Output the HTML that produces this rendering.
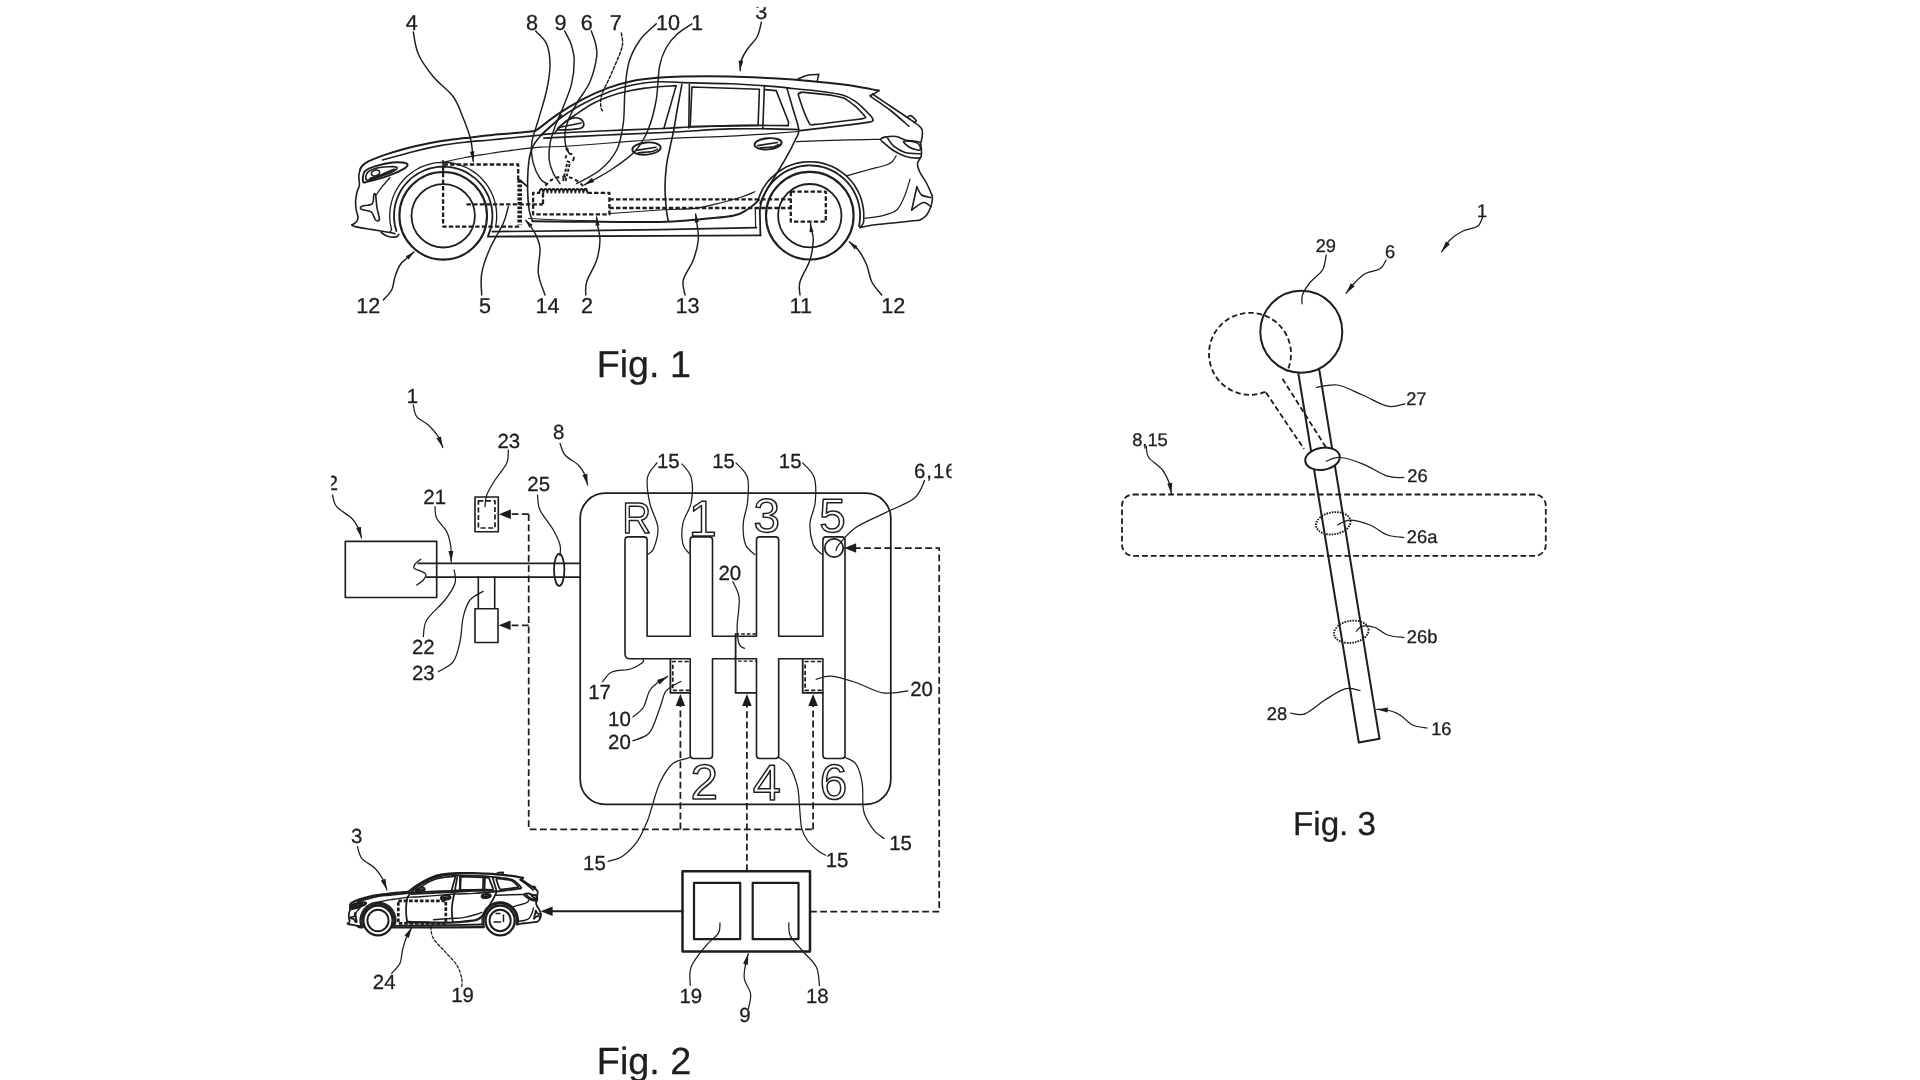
<!DOCTYPE html>
<html lang="en"><head><meta charset="utf-8"><title>Patent drawing - Fig. 1, Fig. 2, Fig. 3</title>
<style>
html,body{margin:0;padding:0;background:#fff;}
body{width:1920px;height:1080px;overflow:hidden;}
svg{display:block;}
svg text{text-rendering:geometricPrecision;font-family:"Liberation Sans",sans-serif;fill:#1d1d1d;stroke:#1d1d1d;stroke-width:0.3px;}
</style></head><body>
<svg width="1920" height="1080" viewBox="0 0 1920 1080" fill="none" stroke="#1d1d1d" stroke-width="1.5" stroke-linecap="round" stroke-linejoin="round">
<rect x="0" y="0" width="1920" height="1080" fill="#ffffff" stroke="none"/>
<g>
<g id="fig1">
<g id="car" stroke-width="1.6"><path d="M360 170C360.3 169.4 360.4 167.7 361.9 166.2C363.4 164.7 364.1 163.4 368.8 161.2C373.5 159 382.3 155.6 390 153.1C397.7 150.6 406.7 148.2 415 146.2C423.3 144.2 431.7 142.5 440 141.2C448.3 139.8 456.7 139.1 465 138.1C473.3 137.1 481.7 136 490 135.2C498.3 134.4 507.9 133.8 515 133.1C522.1 132.4 528.8 131.9 532.5 131.3C536.2 130.7 533.3 132.2 537.5 129.4C541.7 126.6 550 119.4 557.5 114.4C565 109.4 574.2 103.8 582.5 99.4C590.8 95 599.2 91.2 607.5 88.1C615.8 85 624.2 82.7 632.5 81C640.8 79.3 649.2 78.5 657.5 77.8C665.8 77 670.4 76.7 682.5 76.5C694.6 76.3 715.8 76.2 730 76.5C744.2 76.8 756 77.5 767.5 78.1C779 78.7 788.4 79.2 798.8 80C809.2 80.8 820.6 82.1 830 83.1C839.4 84.1 846.9 85 855 86.2C863.1 87.5 874.8 89.9 878.8 90.6" stroke-width="2"/><path d="M878.8 90.6L875 93.1L870 95.8"/><path d="M872.5 94C875.8 96.2 886 103.1 892.5 107.5C899 111.9 906.4 116.8 911.2 120.2C916 123.6 919.4 125.6 921.2 128.1C923.1 130.6 922.3 132.6 922.3 135C922.3 137.4 921.2 141.2 921 142.5"/><path d="M870.6 96.4C873.8 98.7 883.6 105 890 110C896.4 115 905.7 123.5 908.8 126.2"/><path d="M907.5 117.5C908 117.2 909.1 115.1 910.6 115.6C912.1 116.1 915.7 119.4 916.2 120.6C916.7 121.8 914.2 122.2 913.8 122.5"/><path d="M798.1 78.9C799.7 78.3 804 76 807.5 75.2C811 74.5 816.9 74.5 818.8 74.4L817.3 80.6"/><path d="M541.2 135C544.5 132.1 553.9 122.9 561.2 117.5C568.5 112.1 576.9 107.1 585 102.8C593.1 98.5 602.1 94.5 610 91.5C617.9 88.5 624.6 86.6 632.5 85C640.4 83.4 649.2 82.2 657.5 81.8C665.8 81.4 670.4 82.3 682.5 82.6C694.6 82.9 716.9 83.3 730 83.8C743.1 84.3 751.4 84.9 761.2 85.6C771 86.3 784.2 87.5 788.8 87.9"/><path d="M555 132.5C556.3 131.1 559.7 126.9 563 124C566.3 121.1 569.7 118.6 575 115C580.3 111.4 587.5 106.2 595 102.5C602.5 98.8 611.7 95.5 620 93.1C628.3 90.7 635.6 89.3 645 88.1C654.4 86.8 671 86 676.2 85.6L663.8 128.6"/><path d="M382.5 160C387.9 158.5 405.4 153.6 415 151.2C424.6 148.8 431.7 147.1 440 145.6C448.3 144.1 456.7 143.1 465 142.2C473.3 141.3 481.7 140.8 490 140C498.3 139.2 507.5 138.2 515 137.5C522.5 136.8 528.8 136.2 535 135.6C541.2 134.9 541.7 134.4 552.5 133.6C563.3 132.8 581.7 131.8 600 131C618.3 130.2 647.5 129.2 662.5 128.5C677.5 127.8 678.8 127.5 690 127C701.2 126.5 718.3 125.9 730 125.6C741.7 125.3 750.3 125.4 760 125.4C769.7 125.4 783.3 125.6 788 125.6"/><path d="M543.8 138.1C554.4 137.6 586.5 136 607.5 135C628.5 134 649.6 133.2 670 132.2C690.4 131.2 713.3 129.4 730 128.9C746.7 128.4 758.5 128.8 770 128.9C781.5 129 794 129.5 798.8 129.6"/><path d="M442.5 162.5C446.2 161.7 457.1 159 465 157.5C472.9 156 481.7 154.8 490 153.5C498.3 152.2 506.7 151.1 515 150C523.3 148.9 530.8 147.9 540 147.2C549.2 146.5 554.6 147 570 146C585.4 145 615 142.5 632.5 141.2C650 139.9 658.8 138.9 675 138.1C691.2 137.3 714.6 136.9 730 136.2C745.4 135.5 756 134.6 767.5 133.8C779 133 793.6 131.9 798.8 131.5" stroke-width="1.2"/><path d="M557.5 128.5C559 127.3 563.7 122.9 566.2 121.2C568.7 119.5 570.2 118.5 572.5 118.1C574.8 117.7 578.1 117.8 580 118.8C581.9 119.8 583.6 122.2 583.8 123.8C584 125.3 583.5 127.1 581.2 128.1C578.9 129.1 574 129.3 570 129.6C566 129.9 559.6 129.9 557.5 130"/><path d="M558.8 127.5L581 123"/><path d="M681.9 84.4C681.2 88.3 678.9 100.4 677.5 108C676.1 115.6 675 123.4 673.8 130C672.5 136.6 671.2 141.5 670 147.5C668.8 153.5 667.2 159.4 666.4 166.2C665.6 172.9 665 180.7 665 188C665 195.3 665.9 204.5 666.4 210C666.9 215.5 668 219.2 668.3 221"/><path d="M689.4 84.6L688.8 128"/><path d="M691.9 87L759.4 89.2L758.1 125.4L690.2 126.6Z"/><path d="M764.4 86L762.8 128.6"/><path d="M764.6 89.6L776.2 90.6L788.6 122.3L788.1 125.6"/><path d="M786.9 88.1C787.9 91.6 791 102 793 109C795 116 798.5 124.8 798.8 130C799.1 135.2 797 136.1 795 140.5C793 144.9 789.8 151.2 786.7 156.7C783.7 162.2 780 167.8 776.7 173.3C773.4 178.9 769.5 185 766.7 190C763.9 195 761.1 201.1 760 203.3"/><path d="M796.2 141.6C803.9 141.3 828.5 140.5 842.5 140.1C856.5 139.7 873.8 139.5 880 139.4" stroke-width="1.2"/><path d="M788.8 88.1C793.6 88.6 808.5 89.8 817.5 91C826.5 92.2 836.2 93.3 842.5 95C848.8 96.7 850.8 98.3 855 101.2C859.2 104.1 864.6 109.6 867.5 112.5C870.4 115.4 872.1 116.9 872.5 118.5C872.9 120.1 875 120.7 870 121.9C865 123.1 854.2 124.1 842.5 125.6C830.8 127 807.1 129.8 800 130.6"/><path d="M798.8 96.6C797.3 91.8 799.2 94 800 93.3C800.8 92.6 797.8 91.9 803.8 92.4C809.8 92.9 828.7 94.7 836.2 96.2C843.7 97.7 844.2 98.1 848.8 101.2C853.4 104.3 861.4 112.1 863.8 115C866.2 117.9 866.6 117.5 863.1 118.5C859.6 119.5 850.5 120.2 842.5 121.2C834.5 122.2 820.6 124.2 815 124.4C809.4 124.6 811.5 126.9 808.8 122.3C806.1 117.7 800.3 101.4 798.8 96.6Z"/><ellipse cx="646.5" cy="148.6" rx="14.2" ry="6.1" transform="rotate(-5 646.5 148.6)" stroke-width="1.9"/><path d="M636 150.4L656 147.3"/><path d="M638.5 152.7C640 152.6 645.2 152.2 647.5 152C649.8 151.8 650.8 152.1 652.5 151.6C654.2 151.1 656.7 149.6 657.5 149.2"/><ellipse cx="768.1" cy="143.8" rx="13.6" ry="5.6" transform="rotate(-5 768.1 143.8)" stroke-width="1.9"/><path d="M757.6 145.6L777.6 142.5"/><path d="M760.1 147.9C761.6 147.8 766.8 147.4 769.1 147.2C771.4 147 772.4 147.3 774.1 146.8C775.8 146.3 778.3 144.8 779.1 144.4"/><path d="M561.7 115C560.6 116.2 558.2 119.4 555 122.5C551.8 125.6 546.2 129.9 542.5 133.8C538.8 137.8 535.3 141.5 533 146.2C530.7 150.9 529.7 154.7 528.8 162C527.9 169.3 527.5 182 527.6 190C527.7 198 528.4 204.8 529.2 210C530 215.2 532 219.4 532.5 221.3"/><path d="M532.5 221.3C543.8 221.4 578.8 221.7 600 221.8C621.2 221.9 644.2 222.3 660 222C675.8 221.7 682.8 220.7 695 219.7C707.2 218.7 724.4 217.4 733 215.8C741.6 214.2 743 212.1 746.7 210C750.5 207.9 753.5 204.9 755.5 203.2C757.5 201.5 758.3 200.4 758.9 199.9" stroke-width="2"/><path d="M528.5 218.4C533.8 218.7 548.4 219.6 560 220C571.6 220.4 591.7 220.7 598 220.8" stroke-width="1"/><path d="M610 213.5C618.3 212.9 645.8 210.9 660 210C674.2 209.1 685.8 209.3 695 208.3C704.2 207.3 707.5 206 715 204.2C722.5 202.4 733.3 199.6 740 197.5C746.7 195.4 752.5 192.7 755 191.7" stroke-width="1.2"/><path d="M491.3 226.8L487.9 236.6L660 235.9L760.4 235.4" stroke-width="1.9"/><path d="M492.2 231.6C520.2 231.3 616 230.3 660 229.6C704 228.9 740.4 227.9 756.5 227.6"/><path d="M755.3 208.3L755.6 227.6" stroke-width="1.2"/><circle cx="443.2" cy="215.8" r="43.8" stroke-width="2.1"/><circle cx="443.2" cy="215.8" r="31.7" stroke-width="1.8"/><circle cx="809.8" cy="215.7" r="43.8" stroke-width="2.1"/><circle cx="809.8" cy="215.7" r="31.7" stroke-width="1.8"/><path d="M396.4 231C396.2 230 395.3 227.1 394.9 225.2C394.5 223.2 394.3 221.2 394.1 219.2C394 217.2 394 215.1 394.1 213.1C394.2 211.1 394.4 209.1 394.8 207.1C395.1 205.2 395.6 203.2 396.2 201.3C396.8 199.4 397.5 197.5 398.3 195.6C399.1 193.8 400.1 192 401.1 190.3C402.2 188.6 403.3 186.9 404.6 185.3C405.8 183.8 407.2 182.2 408.6 180.8C410 179.4 411.5 178.1 413.1 176.9C414.7 175.6 416.4 174.5 418.1 173.5C419.9 172.4 421.7 171.5 423.5 170.7C425.3 169.9 427.2 169.2 429.2 168.6C431.1 168.1 433.1 167.6 435.1 167.3C437 166.9 439 166.7 441.1 166.6C443.1 166.6 445.1 166.6 447.1 166.8C449.1 166.9 451.1 167.2 453.1 167.6C455 168 457 168.5 458.9 169.2C460.8 169.8 462.7 170.6 464.5 171.4C466.3 172.3 468.1 173.3 469.8 174.4C471.4 175.5 473.1 176.7 474.6 177.9C476.2 179.2 477.6 180.6 479 182.1C480.4 183.5 481.7 185.1 482.9 186.7C484.1 188.3 485.2 190 486.1 191.8C487.1 193.6 488 195.4 488.8 197.2C489.5 199.1 490.2 201 490.7 203C491.2 204.9 491.6 206.9 491.9 208.9C492.2 210.9 492.4 212.9 492.4 214.9C492.4 216.9 492.3 218.9 492.1 220.9C491.9 222.9 491.3 225.9 491.1 226.9" stroke-width="1.8"/><path d="M390 232C390.3 231.6 391.5 231.1 391.5 229.6C391.6 228.2 390.5 225.5 390.2 223.4C389.9 221.3 389.8 219.1 389.7 217C389.7 214.9 389.7 212.7 390 210.6C390.2 208.5 390.5 206.3 391 204.3C391.4 202.2 392 200.1 392.7 198.1C393.4 196.1 394.3 194.1 395.2 192.2C396.1 190.3 397.2 188.4 398.4 186.6C399.5 184.8 400.8 183.1 402.2 181.5C403.5 179.8 405 178.3 406.6 176.8C408.1 175.3 409.8 174 411.5 172.7C413.2 171.4 415 170.3 416.9 169.2C418.7 168.2 420.7 167.2 422.6 166.4C424.6 165.6 426.6 164.9 428.7 164.3C430.7 163.7 432.8 163.3 435 162.9C437.1 162.6 439.2 162.4 441.3 162.3C443.5 162.3 445.6 162.3 447.7 162.5C449.9 162.7 452 163 454.1 163.4C456.2 163.9 458.2 164.4 460.3 165.1C462.3 165.8 464.3 166.6 466.2 167.5C468.1 168.4 470 169.5 471.8 170.6C473.6 171.7 475.4 173 477 174.3C478.7 175.7 480.2 177.1 481.7 178.7C483.2 180.2 484.6 181.9 485.9 183.6C487.2 185.3 488.4 187 489.4 188.9C490.5 190.7 491.5 192.7 492.3 194.6C493.2 196.6 493.9 198.6 494.5 200.6C495.1 202.7 495.6 204.8 496 206.9C496.3 209 496.5 211.1 496.6 213.2C496.7 215.4 496.7 217.5 496.6 219.7C496.4 221.8 495.9 224.9 495.7 226" stroke-width="1.3"/><path d="M759.8 210.4C759.9 209.5 760.3 206.8 760.6 205.1C761 203.3 761.5 201.5 762.1 199.8C762.6 198.1 763.3 196.4 764.1 194.8C764.8 193.1 765.7 191.5 766.6 189.9C767.5 188.4 768.5 186.9 769.6 185.4C770.7 184 771.9 182.6 773.1 181.3C774.4 179.9 775.7 178.7 777.1 177.5C778.4 176.3 779.9 175.2 781.4 174.2C782.9 173.2 784.4 172.2 786 171.4C787.6 170.5 789.3 169.7 791 169.1C792.6 168.4 794.4 167.8 796.1 167.3C797.8 166.8 799.6 166.4 801.4 166.1C803.2 165.8 805 165.6 806.8 165.5C808.6 165.4 810.4 165.4 812.3 165.5C814.1 165.5 815.9 165.7 817.7 166C819.5 166.3 821.2 166.7 823 167.2C824.7 167.6 826.5 168.2 828.2 168.9C829.8 169.5 831.5 170.3 833.1 171.1C834.7 172 836.3 172.9 837.8 173.9C839.3 174.9 840.7 176 842.1 177.2C843.5 178.3 844.9 179.6 846.1 180.9C847.4 182.2 848.5 183.6 849.7 185C850.8 186.4 851.8 187.9 852.7 189.5C853.7 191 854.5 192.6 855.3 194.3C856.1 195.9 856.8 197.6 857.4 199.3C857.9 201 858.4 202.8 858.9 204.6C859.3 206.3 859.6 208.1 859.8 209.9C860 211.7 860.1 213.5 860.1 215.3C860.1 217.2 860 219 859.8 220.8C859.7 222.6 859.1 225.3 859 226.2" stroke-width="1.8"/><path d="M760.4 235.4L760.1 221.5L759.8 210.4" stroke-width="1.8"/><path d="M758.2 199.9C758.5 199.1 759.3 196.5 760 194.9C760.7 193.2 761.4 191.6 762.3 190C763.1 188.4 764.1 186.9 765.1 185.4C766.1 183.9 767.2 182.5 768.3 181.1C769.5 179.8 770.7 178.4 772 177.2C773.2 175.9 774.6 174.7 776 173.6C777.4 172.5 778.8 171.4 780.3 170.5C781.8 169.5 783.4 168.6 784.9 167.8C786.5 166.9 788.2 166.2 789.8 165.5C791.5 164.9 793.2 164.3 794.9 163.8C796.6 163.3 798.4 162.9 800.1 162.6C801.9 162.3 803.7 162 805.5 161.9C807.3 161.7 809 161.7 810.8 161.7C812.6 161.7 814.4 161.9 816.2 162.1C818 162.3 819.7 162.6 821.5 163C823.2 163.4 825 163.8 826.7 164.4C828.4 165 830 165.6 831.7 166.3C833.3 167.1 834.9 167.9 836.5 168.7C838 169.6 839.5 170.6 841 171.6C842.5 172.7 843.9 173.8 845.2 174.9C846.6 176.1 847.9 177.4 849.1 178.7C850.3 180 851.5 181.3 852.6 182.8C853.7 184.2 854.7 185.6 855.6 187.2C856.6 188.7 857.5 190.3 858.3 191.9C859 193.5 859.8 195.1 860.4 196.8C861 198.5 861.6 200.2 862 201.9C862.5 203.6 862.8 205.4 863.1 207.2C863.4 208.9 863.6 210.7 863.7 212.5C863.8 214.3 863.8 216.1 863.8 217.9C863.7 219.7 863.9 221.6 863.3 223.2C862.6 224.8 860.5 226.8 860 227.5"/><path d="M360 170C359.8 171 358.9 173.7 358.8 176.2C358.7 178.7 359.7 182.3 359.4 185C359.1 187.7 357.5 189.8 356.9 192.5C356.3 195.2 355.7 198.3 355.6 201.2C355.5 204.1 355.8 207.3 356.2 210C356.6 212.7 358.1 215.5 358.1 217.5C358.1 219.5 357.2 220.7 356.2 221.9C355.2 223.2 352.6 224.5 351.9 225"/><path d="M351.9 225C352.6 225.3 353 226.2 356.2 226.9C359.4 227.6 365.6 228.5 371.2 229.4C376.8 230.3 386 231.8 390 232.5C394 233.2 394.2 233.6 395 233.8"/><path d="M381.2 232.5C382.2 233.1 385 235.5 387.5 236.2C390 236.9 394.3 237.2 396.2 236.9C398.1 236.6 398.4 234.8 398.8 234.4"/><path d="M390 177.5C388.8 178.9 384.8 183.3 382.5 186.2C380.2 189.1 377.2 193.5 376.2 195" stroke-width="1.3"/><path d="M373.8 194.8C373.2 196.3 374.2 201.9 372.2 203.8C370.2 205.7 363.7 205.3 361.9 206.2C360.1 207.1 359.9 208.4 361.5 209.4C363.1 210.4 368.8 210.1 371.2 211.9C373.6 213.7 374.2 218.8 375.6 220C377 221.2 379.2 221.5 379.4 219.4C379.6 217.3 377.5 211.6 376.9 207.5C376.3 203.4 376.1 197.1 375.6 195C375.1 192.9 374.4 193.3 373.8 194.8Z"/><path d="M363.1 181.9C362.5 180.2 362.6 173.9 365 171.2C367.4 168.5 372.9 167 377.5 165.6C382.1 164.2 388.3 163 392.5 162.5C396.7 162 400 162.2 402.5 162.5C405 162.8 407.1 163.5 407.5 164.4C407.9 165.3 407.1 166.7 405 168.1C402.9 169.5 399 171.4 395 173.1C391 174.8 385.6 176.8 381.2 178.1C376.8 179.4 371.8 180.6 368.8 181.2C365.8 181.8 363.7 183.6 363.1 181.9Z" stroke-width="1.9"/><path d="M366.9 180C364.7 179.3 365.9 174 368.1 171.9C370.3 169.8 375.3 168.3 380 167.5C384.7 166.7 393.9 166.3 396.2 166.9C398.5 167.5 396.3 169.6 393.8 171.2C391.3 172.8 385.7 174.7 381.2 176.2C376.7 177.7 369.1 180.7 366.9 180Z"/><ellipse cx="375.5" cy="173" rx="4.2" ry="2.8" transform="rotate(-15 375.5 173)"/><path d="M370 178.6C372 177.9 378 176.1 382 174.6C386 173.1 392 170.3 394 169.4" stroke-width="2"/><path d="M880.6 139.4C880.8 138.2 883.6 137.4 886.2 136.9C888.8 136.4 893.1 136 896.2 136.5C899.3 137 901.9 139.2 905 140C908.1 140.8 912.5 140.8 915 141.2C917.5 141.6 919 141.4 920 142.5C921 143.6 921 145.2 921.2 147.5C921.4 149.8 921.8 154.4 921.2 156.2C920.6 158 920.2 158.1 917.5 158.1C914.8 158.1 909.2 157.5 905 156.2C900.8 154.8 895.8 152.1 892.5 150C889.2 147.9 887 145.6 885 143.8C883 142 880.4 140.6 880.6 139.4Z"/><path d="M887.5 138.1C888.5 139.4 890.9 143.8 893.8 146.2C896.7 148.6 900.4 151.2 905 152.5C909.6 153.8 918.5 153.6 921.2 153.8"/><path d="M903.8 141.2C905 140.5 914.8 141.6 917.5 143.1C920.2 144.6 921.2 149.3 920 150C918.8 150.7 912.7 149 910 147.5C907.3 146 902.5 141.9 903.8 141.2Z"/><path d="M896.2 155.6C895.6 156.5 894.2 159.6 892.5 161.2C890.8 162.8 890.4 163.5 886.2 165C882 166.5 874 168.2 867.5 170C861 171.8 850.8 174.7 847.5 175.6" stroke-width="1.2"/><path d="M920.6 157.5C920.1 158.6 917.6 161.3 917.5 163.8C917.4 166.3 918.5 169.4 920 172.5C921.5 175.6 924.4 179.1 926.2 182.5C928 185.9 930 190.4 931 193C932 195.6 932.5 195.7 932.5 198C932.5 200.3 931.8 203.9 930.8 206.7C929.8 209.5 928.5 212.8 926.7 215C924.9 217.2 922.2 219 920 220C917.8 221 918.3 220.2 913.3 220.8C908.3 221.4 896.7 222.6 890 223.3C883.3 224 878.3 224.3 873.3 225C868.3 225.7 862.2 227.1 860 227.5"/><path d="M910 179.2C909.2 181.8 907.2 189.9 905 195C902.8 200.1 900.6 206.5 896.7 210C892.8 213.5 887 214.4 881.7 215.8C876.4 217.2 867.8 217.9 865 218.3" stroke-width="1.2"/><path d="M916.7 186.7C917.5 188.1 919.4 193.2 921.7 195C924.1 196.8 929.3 197.1 930.8 197.5"/><path d="M916.7 187.5L911.7 210"/><path d="M911.7 210C913.6 208.8 920.1 203.1 923.3 202.5C926.5 201.9 929.5 206 930.8 206.7"/></g>
<path d="M518.2 180L518.2 164.5L443.1 164.5L443.1 226.6L521.6 226.6" stroke-width="2.3" stroke-dasharray="4.4 2.2" stroke-linecap="butt"/>
<path d="M443.1 160.5L443.1 170" stroke-width="1.6"/>
<path d="M519.7 180L519.7 224.5" stroke-width="4.6" stroke-dasharray="2.8 1.6" stroke-linecap="butt"/>
<path d="M519.6 180L527.5 186.7" stroke-width="1.7"/>
<path d="M466.5 204.3L543 204.3" stroke-width="2.3" stroke-dasharray="4.4 2.2" stroke-linecap="butt"/>
<path d="M587.5 192.8L609.4 192.8L609.4 214.4L533.1 214.4L533.1 192.8L540 192.8" stroke-width="2.3" stroke-dasharray="4.4 2.2" stroke-linecap="butt"/>
<path d="M543 193L543 204.3" stroke-width="2.3" stroke-dasharray="4.4 2.2" stroke-linecap="butt"/>
<path d="M545.4 185.8C546.2 184.9 548.6 182 550.5 180.6C552.4 179.2 554.7 178.2 557 177.6C559.3 177 562 176.7 564.5 176.8C567 176.9 569.6 177.3 572 178.2C574.4 179.1 577 180.7 579 182.2C581 183.7 582.7 185.6 584 187C585.3 188.4 586.4 190.2 586.9 190.8" stroke-width="2.1" stroke-dasharray="3.6 3" stroke-linecap="butt"/>
<path d="M539.4 192.6q0.4 -3.6 2 -3.6 q1.6 0 2 3.6 q0.4 -3.6 2 -3.6 q1.6 0 2 3.6 q0.4 -3.6 2 -3.6 q1.6 0 2 3.6 q0.4 -3.6 2 -3.6 q1.6 0 2 3.6 q0.4 -3.6 2 -3.6 q1.6 0 2 3.6 q0.4 -3.6 2 -3.6 q1.6 0 2 3.6 q0.4 -3.6 2 -3.6 q1.6 0 2 3.6 q0.4 -3.6 2 -3.6 q1.6 0 2 3.6 q0.4 -3.6 2 -3.6 q1.6 0 2 3.6 q0.4 -3.6 2 -3.6 q1.6 0 2 3.6 q0.4 -3.6 2 -3.6 q1.6 0 2 3.6 q0.4 -3.6 2 -3.6 q1.6 0 2 3.6 " stroke-width="1.8"/>
<path d="M563 181L567.2 163.4" stroke-width="1.9" stroke-dasharray="3 1.8" stroke-linecap="butt"/>
<path d="M565.6 181L569.8 163.4" stroke-width="1.9" stroke-dasharray="3 1.8" stroke-linecap="butt"/>
<circle cx="569.8" cy="157.9" r="4.1" stroke-width="1.9" stroke-dasharray="3.4 2.57" stroke-linecap="butt"/>
<path d="M609.4 199.3L790.8 199.3" stroke-width="2.3" stroke-dasharray="4.4 2.2" stroke-linecap="butt"/>
<path d="M609.4 208L790.8 208" stroke-width="2.3" stroke-dasharray="4.4 2.2" stroke-linecap="butt"/>
<path d="M790.8 191.7L825.8 191.7L825.8 221.7L790.8 221.7Z" stroke-width="2.3" stroke-dasharray="4.4 2.2" stroke-linecap="butt"/>
<path d="M413.3 32C414.1 35.7 415 46.5 418.3 54C421.6 61.5 427.5 69.6 433.3 76.7C439.1 83.8 448.3 89.8 453.3 96.7C458.3 103.6 460.4 111.1 463.3 118.3C466.2 125.5 469.1 132.8 470.8 140C472.5 147.2 472.9 157.9 473.3 161.5" stroke-width="1.45"/>
<path d="M473.3 161.5L469.9 151.8L474.4 151.3Z" fill="#1d1d1d" stroke="none"/>
<path d="M535.7 31C537.5 33.2 544.3 38.3 546.7 44C549.1 49.7 550 57.3 550 65C550 72.7 548.7 80.8 546.7 90C544.8 99.2 540.8 111.1 538.3 120C535.8 128.9 532.5 136.1 531.7 143.3C530.9 150.5 531.9 157.5 533.3 163.3C534.7 169.1 537.8 174.9 540 178.3C542.2 181.7 545.6 182.9 546.7 183.8" stroke-width="1.45"/>
<path d="M564.6 31C565.7 33.2 569.4 39.2 571 44C572.6 48.8 574.1 53.5 574.2 60C574.3 66.5 573.5 75.5 571.7 83.3C569.9 91.1 566.1 99.5 563.3 106.7C560.5 113.9 557.2 120.6 555 126.7C552.8 132.8 551 137.8 550 143.3C549 148.9 548.7 155 549.2 160C549.8 165 551.5 169.4 553.3 173.3C555.1 177.2 558.9 181.9 560 183.6" stroke-width="1.45"/>
<path d="M591.3 31C592 33.2 594.7 39.7 595.6 44C596.5 48.3 597.6 50.4 596.7 56.7C595.8 63 593.3 73.9 590 81.7C586.7 89.5 580.3 96.9 576.7 103.3C573.1 109.7 570.2 115 568.3 120C566.3 125 565.4 128.9 565 133.3C564.6 137.8 565.1 143.3 565.8 146.7C566.5 150.1 568.8 152.4 569.4 153.6" stroke-width="1.45"/>
<path d="M569.4 153.6L565.1 149.1L568.1 147.5Z" fill="#1d1d1d" stroke="none"/>
<path d="M621.3 33C621.5 34.7 622.8 39.6 622.6 43C622.4 46.4 622.1 47.7 620 53.3C617.9 58.9 613 69.8 610 76.7C607 83.7 603.2 90 601.7 95C600.2 100 600.7 104.1 600.8 106.7C600.9 109.3 602.2 110.1 602.5 110.8" stroke-width="1.45" stroke-dasharray="3 2"/>
<path d="M656.3 23.8C653.6 26.5 644.5 33.6 640 40C635.5 46.4 631.5 53.7 629 62C626.5 70.3 626 79.8 625 90C624 100.2 624.7 113.3 623.3 123.3C621.9 133.3 620.6 142.2 616.7 150C612.8 157.8 606.7 164.4 600 170C593.3 175.6 580.6 181.3 576.7 183.6" stroke-width="1.45"/>
<path d="M691.9 23.8C689.5 25.5 681.8 29.8 677.5 33.8C673.2 37.8 669.3 42.1 666.3 47.5C663.3 52.9 661.3 57.2 659.6 66C657.9 74.8 658.1 89.3 656.2 100C654.3 110.7 651.5 121.5 648 130C644.5 138.5 641.3 144.4 635 151.2C628.7 157.9 618.4 164.9 610 170.5C601.6 176.1 588.7 182.4 584.4 184.8" stroke-width="1.45"/>
<path d="M584.4 184.8L591.9 177.7L594.3 182.1Z" fill="#1d1d1d" stroke="none"/>
<path d="M761.4 22.2C760.7 24.7 759.5 32.4 757 37C754.5 41.6 749.4 45.9 746.7 50C744 54.1 741.9 58.3 740.8 61.7C739.7 65.1 740.3 69.1 740.2 70.6" stroke-width="1.45"/>
<path d="M740.2 70.6L738.6 60.5L743.2 60.8Z" fill="#1d1d1d" stroke="none"/>
<path d="M383.3 300C384.7 298.3 389.8 293.9 391.7 290C393.6 286.1 393.6 280.9 395 276.7C396.4 272.5 398.1 268.1 400 265C401.9 261.9 404.4 260.5 406.7 258.3C409 256.1 412.8 253.1 414 252" stroke-width="1.45"/>
<path d="M414 252L408.6 259.5L405.7 256.2Z" fill="#1d1d1d" stroke="none"/>
<path d="M481.7 295C481.7 291.4 480.3 281.1 481.7 273.3C483.1 265.5 486.4 256.6 490 248.3C493.6 240 500.2 230.2 503.3 223.3C506.4 216.4 507.5 209.5 508.3 206.7" stroke-width="1.45"/>
<path d="M545 295C543.9 291.4 539.1 281.1 538.3 273.3C537.5 265.5 540.5 255 540 248.3C539.5 241.6 537 237.5 535 233.3C533 229.1 529.9 225.5 528.3 223.3C526.7 221.2 526 220.9 525.6 220.4" stroke-width="1.45"/>
<path d="M525.6 220.4L532.7 224.8L529.4 227.8Z" fill="#1d1d1d" stroke="none"/>
<path d="M585.8 295C585.9 292.8 584.9 287.5 586.7 281.7C588.5 275.9 594.5 266.9 596.7 260C598.9 253.1 599.9 245.8 600 240C600.1 234.2 598.1 228.8 597.5 225C596.9 221.2 596.8 218.3 596.6 217" stroke-width="1.45"/>
<path d="M596.6 217L599.6 225.2L595.5 225.7Z" fill="#1d1d1d" stroke="none"/>
<path d="M685 295C684.7 292.5 681.9 285.8 683.3 280C684.7 274.2 690.8 266.7 693.3 260C695.8 253.3 697.7 246 698.3 240C698.9 234 697.5 228.3 697 224C696.5 219.7 695.8 215.7 695.6 214" stroke-width="1.45"/>
<path d="M695.6 214L698.9 222.1L694.7 222.7Z" fill="#1d1d1d" stroke="none"/>
<path d="M800 295C800 292.8 798.3 287.5 800 281.7C801.7 275.9 807.8 266.9 810 260C812.2 253.1 813.1 245.3 813.3 240C813.5 234.7 811.5 230.8 811 228C810.5 225.2 810.6 224.2 810.5 223.5" stroke-width="1.45"/>
<path d="M810.5 223.5L813.5 231.7L809.4 232.2Z" fill="#1d1d1d" stroke="none"/>
<path d="M881.7 295C880 292.8 874.2 286.7 871.7 281.7C869.2 276.7 868.9 270.3 866.7 265C864.5 259.7 861.2 253.8 858.3 250C855.4 246.2 850.9 243.2 849.4 241.9" stroke-width="1.45"/>
<path d="M849.4 241.9L857.5 246.3L854.6 249.6Z" fill="#1d1d1d" stroke="none"/>
</g>
<g id="fig2">
<path d="M345.3 541.3L436.7 541.3L436.7 597.5L345.3 597.5Z" stroke-width="1.65"/>
<path d="M418.3 563.3L579.5 563.3" stroke-width="1.75"/>
<path d="M426.7 577L579.5 577" stroke-width="1.75"/>
<path d="M420.8 559.2C419.8 560 416.1 562.7 415 564.2C413.9 565.7 413.4 567.2 414.2 568.3C415 569.4 418.1 569.8 420 570.8C421.9 571.8 425.2 572.7 425.8 574.2C426.4 575.7 424.8 578.2 423.3 580C421.8 581.8 417.8 584.2 416.7 585" stroke-width="1.3"/>
<ellipse cx="559.2" cy="569.8" rx="5.2" ry="16" stroke-width="1.8"/>
<path d="M478.3 577L478.3 608.5" stroke-width="1.6"/>
<path d="M494.7 577L494.7 608.5" stroke-width="1.6"/>
<path d="M475 608.7L498 608.7L498 642.5L475 642.5Z" stroke-width="1.6"/>
<path d="M475 497L498.3 497L498.3 531.7L475 531.7Z" stroke-width="1.6"/>
<path d="M478.4 500.8L495 500.8L495 528L478.4 528Z" stroke-width="1.7" stroke-dasharray="5 2.6" stroke-linecap="butt"/>
<path d="M528.7 514.2L528.7 829.4L813.1 829.4" stroke-width="1.75" stroke-dasharray="6.8 3.4" stroke-linecap="butt"/>
<path d="M528.7 514.2L508 514.2" stroke-width="1.75" stroke-dasharray="6.8 3.4" stroke-linecap="butt"/>
<path d="M498.9 514.2L510.9 509.4L510.9 519Z" fill="#1d1d1d" stroke="none"/>
<path d="M528.7 625.3L508 625.3" stroke-width="1.75" stroke-dasharray="6.8 3.4" stroke-linecap="butt"/>
<path d="M498.6 625.3L510.6 620.5L510.6 630.1Z" fill="#1d1d1d" stroke="none"/>
<rect x="580.2" y="493.2" width="310.6" height="311.2" rx="25" ry="25" stroke-width="1.75"/>
<path d="M625 540.1Q625 536.9 628.2 536.9L643.9 536.9Q647.1 536.9 647.1 540.1L647.1 636.2L690.2 636.2L690.2 540.1Q690.2 536.9 693.4 536.9L709.3 536.9Q712.5 536.9 712.5 540.1L712.5 636.2L756.5 636.2L756.5 540.1Q756.5 536.9 759.7 536.9L775.5 536.9Q778.7 536.9 778.7 540.1L778.7 636.2L822.9 636.2L822.9 540.1Q822.9 536.9 826.1 536.9L841.8 536.9Q845 536.9 845 540.1L845 755.3Q845 758.5 841.8 758.5L826.1 758.5Q822.9 758.5 822.9 755.3L822.9 658.8L778.7 658.8L778.7 755.3Q778.7 758.5 775.5 758.5L759.7 758.5Q756.5 758.5 756.5 755.3L756.5 658.8L712.5 658.8L712.5 755.3Q712.5 758.5 709.3 758.5L693.4 758.5Q690.2 758.5 690.2 755.3L690.2 658.8L630 658.8Q625 658.8 625 653.8Z" stroke-width="1.6"/>
<circle cx="834" cy="548" r="9.2" stroke-width="1.75"/>
<path d="M670.4 658.8L670.4 692.9L690.2 692.9" stroke-width="1.8"/>
<path d="M688.7 661.5L672.8 661.5L672.8 690.4L690.2 690.4" stroke-width="1.7" stroke-dasharray="4.2 2.2" stroke-linecap="butt"/>
<path d="M802.7 658.8L802.7 692.9L822.9 692.9" stroke-width="1.8"/>
<path d="M821.4 661.5L805.1 661.5L805.1 690.4L822.9 690.4" stroke-width="1.7" stroke-dasharray="4.2 2.2" stroke-linecap="butt"/>
<path d="M735.6 658.8L735.6 692.9L755.8 692.9" stroke-width="1.8"/>
<path d="M735.6 658.8L735.6 634" stroke-width="1.8"/>
<path d="M735.6 634L756 634" stroke-width="1.4" stroke-dasharray="3.6 2" stroke-linecap="butt"/>
<path d="M738 661.2L756 661.2" stroke-width="1.2" stroke-dasharray="3.6 2" stroke-linecap="butt"/>
<path d="M680.4 829.4L680.4 703" stroke-width="1.75" stroke-dasharray="6.8 3.4" stroke-linecap="butt"/>
<path d="M680.4 694L685.2 706L675.6 706Z" fill="#1d1d1d" stroke="none"/>
<path d="M813.1 829.4L813.1 703" stroke-width="1.75" stroke-dasharray="6.8 3.4" stroke-linecap="butt"/>
<path d="M813.1 694L817.9 706L808.3 706Z" fill="#1d1d1d" stroke="none"/>
<path d="M746.9 871L746.9 703" stroke-width="1.75" stroke-dasharray="6.8 3.4" stroke-linecap="butt"/>
<path d="M746.9 694L751.7 706L742.1 706Z" fill="#1d1d1d" stroke="none"/>
<path d="M810 911.5L939.2 911.5L939.2 548L854 548" stroke-width="1.75" stroke-dasharray="6.8 3.4" stroke-linecap="butt"/>
<path d="M844.2 548L856.2 543.2L856.2 552.8Z" fill="#1d1d1d" stroke="none"/>
<path d="M682.5 871.3L810 871.3L810 951.5L682.5 951.5Z" stroke-width="2.5"/>
<path d="M694 882.9L740.2 882.9L740.2 939.2L694 939.2Z" stroke-width="2.2"/>
<path d="M752.7 882.9L798.5 882.9L798.5 939.2L752.7 939.2Z" stroke-width="2.2"/>
<path d="M682.5 911.2L549 911.2" stroke-width="1.9"/>
<path d="M540.6 911.2L552.6 906.4L552.6 916Z" fill="#1d1d1d" stroke="none"/>
<g transform="translate(230.3 847.1) scale(0.3332 0.34)"><g id="car2" stroke-width="5.3"><path d="M360 170C360.3 169.4 360.4 167.7 361.9 166.2C363.4 164.7 364.1 163.4 368.8 161.2C373.5 159 382.3 155.6 390 153.1C397.7 150.6 406.7 148.2 415 146.2C423.3 144.2 431.7 142.5 440 141.2C448.3 139.8 456.7 139.1 465 138.1C473.3 137.1 481.7 136 490 135.2C498.3 134.4 507.9 133.8 515 133.1C522.1 132.4 528.8 131.9 532.5 131.3C536.2 130.7 533.3 132.2 537.5 129.4C541.7 126.6 550 119.4 557.5 114.4C565 109.4 574.2 103.8 582.5 99.4C590.8 95 599.2 91.2 607.5 88.1C615.8 85 624.2 82.7 632.5 81C640.8 79.3 649.2 78.5 657.5 77.8C665.8 77 670.4 76.7 682.5 76.5C694.6 76.3 715.8 76.2 730 76.5C744.2 76.8 756 77.5 767.5 78.1C779 78.7 788.4 79.2 798.8 80C809.2 80.8 820.6 82.1 830 83.1C839.4 84.1 846.9 85 855 86.2C863.1 87.5 874.8 89.9 878.8 90.6" stroke-width="6.6"/><path d="M878.8 90.6L875 93.1L870 95.8"/><path d="M872.5 94C875.8 96.2 886 103.1 892.5 107.5C899 111.9 906.4 116.8 911.2 120.2C916 123.6 919.4 125.6 921.2 128.1C923.1 130.6 922.3 132.6 922.3 135C922.3 137.4 921.2 141.2 921 142.5"/><path d="M870.6 96.4C873.8 98.7 883.6 105 890 110C896.4 115 905.7 123.5 908.8 126.2"/><path d="M907.5 117.5C908 117.2 909.1 115.1 910.6 115.6C912.1 116.1 915.7 119.4 916.2 120.6C916.7 121.8 914.2 122.2 913.8 122.5"/><path d="M798.1 78.9C799.7 78.3 804 76 807.5 75.2C811 74.5 816.9 74.5 818.8 74.4L817.3 80.6"/><path d="M541.2 135C544.5 132.1 553.9 122.9 561.2 117.5C568.5 112.1 576.9 107.1 585 102.8C593.1 98.5 602.1 94.5 610 91.5C617.9 88.5 624.6 86.6 632.5 85C640.4 83.4 649.2 82.2 657.5 81.8C665.8 81.4 670.4 82.3 682.5 82.6C694.6 82.9 716.9 83.3 730 83.8C743.1 84.3 751.4 84.9 761.2 85.6C771 86.3 784.2 87.5 788.8 87.9"/><path d="M555 132.5C556.3 131.1 559.7 126.9 563 124C566.3 121.1 569.7 118.6 575 115C580.3 111.4 587.5 106.2 595 102.5C602.5 98.8 611.7 95.5 620 93.1C628.3 90.7 635.6 89.3 645 88.1C654.4 86.8 671 86 676.2 85.6L663.8 128.6"/><path d="M382.5 160C387.9 158.5 405.4 153.6 415 151.2C424.6 148.8 431.7 147.1 440 145.6C448.3 144.1 456.7 143.1 465 142.2C473.3 141.3 481.7 140.8 490 140C498.3 139.2 507.5 138.2 515 137.5C522.5 136.8 528.8 136.2 535 135.6C541.2 134.9 541.7 134.4 552.5 133.6C563.3 132.8 581.7 131.8 600 131C618.3 130.2 647.5 129.2 662.5 128.5C677.5 127.8 678.8 127.5 690 127C701.2 126.5 718.3 125.9 730 125.6C741.7 125.3 750.3 125.4 760 125.4C769.7 125.4 783.3 125.6 788 125.6"/><path d="M543.8 138.1C554.4 137.6 586.5 136 607.5 135C628.5 134 649.6 133.2 670 132.2C690.4 131.2 713.3 129.4 730 128.9C746.7 128.4 758.5 128.8 770 128.9C781.5 129 794 129.5 798.8 129.6"/><path d="M442.5 162.5C446.2 161.7 457.1 159 465 157.5C472.9 156 481.7 154.8 490 153.5C498.3 152.2 506.7 151.1 515 150C523.3 148.9 530.8 147.9 540 147.2C549.2 146.5 554.6 147 570 146C585.4 145 615 142.5 632.5 141.2C650 139.9 658.8 138.9 675 138.1C691.2 137.3 714.6 136.9 730 136.2C745.4 135.5 756 134.6 767.5 133.8C779 133 793.6 131.9 798.8 131.5" stroke-width="4.1"/><path d="M557.5 128.5C559 127.3 563.7 122.9 566.2 121.2C568.7 119.5 570.2 118.5 572.5 118.1C574.8 117.7 578.1 117.8 580 118.8C581.9 119.8 583.6 122.2 583.8 123.8C584 125.3 583.5 127.1 581.2 128.1C578.9 129.1 574 129.3 570 129.6C566 129.9 559.6 129.9 557.5 130"/><path d="M558.8 127.5L581 123"/><path d="M681.9 84.4C681.2 88.3 678.9 100.4 677.5 108C676.1 115.6 675 123.4 673.8 130C672.5 136.6 671.2 141.5 670 147.5C668.8 153.5 667.2 159.4 666.4 166.2C665.6 172.9 665 180.7 665 188C665 195.3 665.9 204.5 666.4 210C666.9 215.5 668 219.2 668.3 221"/><path d="M689.4 84.6L688.8 128"/><path d="M691.9 87L759.4 89.2L758.1 125.4L690.2 126.6Z"/><path d="M764.4 86L762.8 128.6"/><path d="M764.6 89.6L776.2 90.6L788.6 122.3L788.1 125.6"/><path d="M786.9 88.1C787.9 91.6 791 102 793 109C795 116 798.5 124.8 798.8 130C799.1 135.2 797 136.1 795 140.5C793 144.9 789.8 151.2 786.7 156.7C783.7 162.2 780 167.8 776.7 173.3C773.4 178.9 769.5 185 766.7 190C763.9 195 761.1 201.1 760 203.3"/><path d="M796.2 141.6C803.9 141.3 828.5 140.5 842.5 140.1C856.5 139.7 873.8 139.5 880 139.4" stroke-width="4.1"/><path d="M788.8 88.1C793.6 88.6 808.5 89.8 817.5 91C826.5 92.2 836.2 93.3 842.5 95C848.8 96.7 850.8 98.3 855 101.2C859.2 104.1 864.6 109.6 867.5 112.5C870.4 115.4 872.1 116.9 872.5 118.5C872.9 120.1 875 120.7 870 121.9C865 123.1 854.2 124.1 842.5 125.6C830.8 127 807.1 129.8 800 130.6"/><path d="M798.8 96.6C797.3 91.8 799.2 94 800 93.3C800.8 92.6 797.8 91.9 803.8 92.4C809.8 92.9 828.7 94.7 836.2 96.2C843.7 97.7 844.2 98.1 848.8 101.2C853.4 104.3 861.4 112.1 863.8 115C866.2 117.9 866.6 117.5 863.1 118.5C859.6 119.5 850.5 120.2 842.5 121.2C834.5 122.2 820.6 124.2 815 124.4C809.4 124.6 811.5 126.9 808.8 122.3C806.1 117.7 800.3 101.4 798.8 96.6Z"/><ellipse cx="646.5" cy="148.6" rx="14.2" ry="6.1" transform="rotate(-5 646.5 148.6)" stroke-width="6.3"/><path d="M636 150.4L656 147.3"/><path d="M638.5 152.7C640 152.6 645.2 152.2 647.5 152C649.8 151.8 650.8 152.1 652.5 151.6C654.2 151.1 656.7 149.6 657.5 149.2"/><ellipse cx="768.1" cy="143.8" rx="13.6" ry="5.6" transform="rotate(-5 768.1 143.8)" stroke-width="6.3"/><path d="M757.6 145.6L777.6 142.5"/><path d="M760.1 147.9C761.6 147.8 766.8 147.4 769.1 147.2C771.4 147 772.4 147.3 774.1 146.8C775.8 146.3 778.3 144.8 779.1 144.4"/><path d="M561.7 115C560.6 116.2 558.2 119.4 555 122.5C551.8 125.6 546.2 129.9 542.5 133.8C538.8 137.8 535.3 141.5 533 146.2C530.7 150.9 529.7 154.7 528.8 162C527.9 169.3 527.5 182 527.6 190C527.7 198 528.4 204.8 529.2 210C530 215.2 532 219.4 532.5 221.3"/><path d="M532.5 221.3C543.8 221.4 578.8 221.7 600 221.8C621.2 221.9 644.2 222.3 660 222C675.8 221.7 682.8 220.7 695 219.7C707.2 218.7 724.4 217.4 733 215.8C741.6 214.2 743 212.1 746.7 210C750.5 207.9 753.5 204.9 755.5 203.2C757.5 201.5 758.3 200.4 758.9 199.9" stroke-width="6.6"/><path d="M528.5 218.4C533.8 218.7 548.4 219.6 560 220C571.6 220.4 591.7 220.7 598 220.8" stroke-width="3.3"/><path d="M610 213.5C618.3 212.9 645.8 210.9 660 210C674.2 209.1 685.8 209.3 695 208.3C704.2 207.3 707.5 206 715 204.2C722.5 202.4 733.3 199.6 740 197.5C746.7 195.4 752.5 192.7 755 191.7" stroke-width="4.1"/><path d="M491.3 226.8L487.9 236.6L660 235.9L760.4 235.4" stroke-width="6.3"/><path d="M492.2 231.6C520.2 231.3 616 230.3 660 229.6C704 228.9 740.4 227.9 756.5 227.6"/><path d="M755.3 208.3L755.6 227.6" stroke-width="4"/><circle cx="443.2" cy="215.8" r="43.8" stroke-width="6.9"/><circle cx="443.2" cy="215.8" r="31.7" stroke-width="5.9"/><circle cx="809.8" cy="215.7" r="43.8" stroke-width="6.9"/><circle cx="809.8" cy="215.7" r="31.7" stroke-width="5.9"/><path d="M396.4 231C396.2 230 395.3 227.1 394.9 225.2C394.5 223.2 394.3 221.2 394.1 219.2C394 217.2 394 215.1 394.1 213.1C394.2 211.1 394.4 209.1 394.8 207.1C395.1 205.2 395.6 203.2 396.2 201.3C396.8 199.4 397.5 197.5 398.3 195.6C399.1 193.8 400.1 192 401.1 190.3C402.2 188.6 403.3 186.9 404.6 185.3C405.8 183.8 407.2 182.2 408.6 180.8C410 179.4 411.5 178.1 413.1 176.9C414.7 175.6 416.4 174.5 418.1 173.5C419.9 172.4 421.7 171.5 423.5 170.7C425.3 169.9 427.2 169.2 429.2 168.6C431.1 168.1 433.1 167.6 435.1 167.3C437 166.9 439 166.7 441.1 166.6C443.1 166.6 445.1 166.6 447.1 166.8C449.1 166.9 451.1 167.2 453.1 167.6C455 168 457 168.5 458.9 169.2C460.8 169.8 462.7 170.6 464.5 171.4C466.3 172.3 468.1 173.3 469.8 174.4C471.4 175.5 473.1 176.7 474.6 177.9C476.2 179.2 477.6 180.6 479 182.1C480.4 183.5 481.7 185.1 482.9 186.7C484.1 188.3 485.2 190 486.1 191.8C487.1 193.6 488 195.4 488.8 197.2C489.5 199.1 490.2 201 490.7 203C491.2 204.9 491.6 206.9 491.9 208.9C492.2 210.9 492.4 212.9 492.4 214.9C492.4 216.9 492.3 218.9 492.1 220.9C491.9 222.9 491.3 225.9 491.1 226.9" stroke-width="5.9"/><path d="M390 232C390.3 231.6 391.5 231.1 391.5 229.6C391.6 228.2 390.5 225.5 390.2 223.4C389.9 221.3 389.8 219.1 389.7 217C389.7 214.9 389.7 212.7 390 210.6C390.2 208.5 390.5 206.3 391 204.3C391.4 202.2 392 200.1 392.7 198.1C393.4 196.1 394.3 194.1 395.2 192.2C396.1 190.3 397.2 188.4 398.4 186.6C399.5 184.8 400.8 183.1 402.2 181.5C403.5 179.8 405 178.3 406.6 176.8C408.1 175.3 409.8 174 411.5 172.7C413.2 171.4 415 170.3 416.9 169.2C418.7 168.2 420.7 167.2 422.6 166.4C424.6 165.6 426.6 164.9 428.7 164.3C430.7 163.7 432.8 163.3 435 162.9C437.1 162.6 439.2 162.4 441.3 162.3C443.5 162.3 445.6 162.3 447.7 162.5C449.9 162.7 452 163 454.1 163.4C456.2 163.9 458.2 164.4 460.3 165.1C462.3 165.8 464.3 166.6 466.2 167.5C468.1 168.4 470 169.5 471.8 170.6C473.6 171.7 475.4 173 477 174.3C478.7 175.7 480.2 177.1 481.7 178.7C483.2 180.2 484.6 181.9 485.9 183.6C487.2 185.3 488.4 187 489.4 188.9C490.5 190.7 491.5 192.7 492.3 194.6C493.2 196.6 493.9 198.6 494.5 200.6C495.1 202.7 495.6 204.8 496 206.9C496.3 209 496.5 211.1 496.6 213.2C496.7 215.4 496.7 217.5 496.6 219.7C496.4 221.8 495.9 224.9 495.7 226" stroke-width="4.3"/><path d="M759.8 210.4C759.9 209.5 760.3 206.8 760.6 205.1C761 203.3 761.5 201.5 762.1 199.8C762.6 198.1 763.3 196.4 764.1 194.8C764.8 193.1 765.7 191.5 766.6 189.9C767.5 188.4 768.5 186.9 769.6 185.4C770.7 184 771.9 182.6 773.1 181.3C774.4 179.9 775.7 178.7 777.1 177.5C778.4 176.3 779.9 175.2 781.4 174.2C782.9 173.2 784.4 172.2 786 171.4C787.6 170.5 789.3 169.7 791 169.1C792.6 168.4 794.4 167.8 796.1 167.3C797.8 166.8 799.6 166.4 801.4 166.1C803.2 165.8 805 165.6 806.8 165.5C808.6 165.4 810.4 165.4 812.3 165.5C814.1 165.5 815.9 165.7 817.7 166C819.5 166.3 821.2 166.7 823 167.2C824.7 167.6 826.5 168.2 828.2 168.9C829.8 169.5 831.5 170.3 833.1 171.1C834.7 172 836.3 172.9 837.8 173.9C839.3 174.9 840.7 176 842.1 177.2C843.5 178.3 844.9 179.6 846.1 180.9C847.4 182.2 848.5 183.6 849.7 185C850.8 186.4 851.8 187.9 852.7 189.5C853.7 191 854.5 192.6 855.3 194.3C856.1 195.9 856.8 197.6 857.4 199.3C857.9 201 858.4 202.8 858.9 204.6C859.3 206.3 859.6 208.1 859.8 209.9C860 211.7 860.1 213.5 860.1 215.3C860.1 217.2 860 219 859.8 220.8C859.7 222.6 859.1 225.3 859 226.2" stroke-width="5.9"/><path d="M760.4 235.4L760.1 221.5L759.8 210.4" stroke-width="5.9"/><path d="M758.2 199.9C758.5 199.1 759.3 196.5 760 194.9C760.7 193.2 761.4 191.6 762.3 190C763.1 188.4 764.1 186.9 765.1 185.4C766.1 183.9 767.2 182.5 768.3 181.1C769.5 179.8 770.7 178.4 772 177.2C773.2 175.9 774.6 174.7 776 173.6C777.4 172.5 778.8 171.4 780.3 170.5C781.8 169.5 783.4 168.6 784.9 167.8C786.5 166.9 788.2 166.2 789.8 165.5C791.5 164.9 793.2 164.3 794.9 163.8C796.6 163.3 798.4 162.9 800.1 162.6C801.9 162.3 803.7 162 805.5 161.9C807.3 161.7 809 161.7 810.8 161.7C812.6 161.7 814.4 161.9 816.2 162.1C818 162.3 819.7 162.6 821.5 163C823.2 163.4 825 163.8 826.7 164.4C828.4 165 830 165.6 831.7 166.3C833.3 167.1 834.9 167.9 836.5 168.7C838 169.6 839.5 170.6 841 171.6C842.5 172.7 843.9 173.8 845.2 174.9C846.6 176.1 847.9 177.4 849.1 178.7C850.3 180 851.5 181.3 852.6 182.8C853.7 184.2 854.7 185.6 855.6 187.2C856.6 188.7 857.5 190.3 858.3 191.9C859 193.5 859.8 195.1 860.4 196.8C861 198.5 861.6 200.2 862 201.9C862.5 203.6 862.8 205.4 863.1 207.2C863.4 208.9 863.6 210.7 863.7 212.5C863.8 214.3 863.8 216.1 863.8 217.9C863.7 219.7 863.9 221.6 863.3 223.2C862.6 224.8 860.5 226.8 860 227.5"/><path d="M360 170C359.8 171 358.9 173.7 358.8 176.2C358.7 178.7 359.7 182.3 359.4 185C359.1 187.7 357.5 189.8 356.9 192.5C356.3 195.2 355.7 198.3 355.6 201.2C355.5 204.1 355.8 207.3 356.2 210C356.6 212.7 358.1 215.5 358.1 217.5C358.1 219.5 357.2 220.7 356.2 221.9C355.2 223.2 352.6 224.5 351.9 225"/><path d="M351.9 225C352.6 225.3 353 226.2 356.2 226.9C359.4 227.6 365.6 228.5 371.2 229.4C376.8 230.3 386 231.8 390 232.5C394 233.2 394.2 233.6 395 233.8"/><path d="M381.2 232.5C382.2 233.1 385 235.5 387.5 236.2C390 236.9 394.3 237.2 396.2 236.9C398.1 236.6 398.4 234.8 398.8 234.4"/><path d="M390 177.5C388.8 178.9 384.8 183.3 382.5 186.2C380.2 189.1 377.2 193.5 376.2 195" stroke-width="4.3"/><path d="M373.8 194.8C373.2 196.3 374.2 201.9 372.2 203.8C370.2 205.7 363.7 205.3 361.9 206.2C360.1 207.1 359.9 208.4 361.5 209.4C363.1 210.4 368.8 210.1 371.2 211.9C373.6 213.7 374.2 218.8 375.6 220C377 221.2 379.2 221.5 379.4 219.4C379.6 217.3 377.5 211.6 376.9 207.5C376.3 203.4 376.1 197.1 375.6 195C375.1 192.9 374.4 193.3 373.8 194.8Z"/><path d="M363.1 181.9C362.5 180.2 362.6 173.9 365 171.2C367.4 168.5 372.9 167 377.5 165.6C382.1 164.2 388.3 163 392.5 162.5C396.7 162 400 162.2 402.5 162.5C405 162.8 407.1 163.5 407.5 164.4C407.9 165.3 407.1 166.7 405 168.1C402.9 169.5 399 171.4 395 173.1C391 174.8 385.6 176.8 381.2 178.1C376.8 179.4 371.8 180.6 368.8 181.2C365.8 181.8 363.7 183.6 363.1 181.9Z" stroke-width="6.3"/><path d="M366.9 180C364.7 179.3 365.9 174 368.1 171.9C370.3 169.8 375.3 168.3 380 167.5C384.7 166.7 393.9 166.3 396.2 166.9C398.5 167.5 396.3 169.6 393.8 171.2C391.3 172.8 385.7 174.7 381.2 176.2C376.7 177.7 369.1 180.7 366.9 180Z"/><ellipse cx="375.5" cy="173" rx="4.2" ry="2.8" transform="rotate(-15 375.5 173)"/><path d="M370 178.6C372 177.9 378 176.1 382 174.6C386 173.1 392 170.3 394 169.4" stroke-width="6.6"/><path d="M880.6 139.4C880.8 138.2 883.6 137.4 886.2 136.9C888.8 136.4 893.1 136 896.2 136.5C899.3 137 901.9 139.2 905 140C908.1 140.8 912.5 140.8 915 141.2C917.5 141.6 919 141.4 920 142.5C921 143.6 921 145.2 921.2 147.5C921.4 149.8 921.8 154.4 921.2 156.2C920.6 158 920.2 158.1 917.5 158.1C914.8 158.1 909.2 157.5 905 156.2C900.8 154.8 895.8 152.1 892.5 150C889.2 147.9 887 145.6 885 143.8C883 142 880.4 140.6 880.6 139.4Z"/><path d="M887.5 138.1C888.5 139.4 890.9 143.8 893.8 146.2C896.7 148.6 900.4 151.2 905 152.5C909.6 153.8 918.5 153.6 921.2 153.8"/><path d="M903.8 141.2C905 140.5 914.8 141.6 917.5 143.1C920.2 144.6 921.2 149.3 920 150C918.8 150.7 912.7 149 910 147.5C907.3 146 902.5 141.9 903.8 141.2Z"/><path d="M896.2 155.6C895.6 156.5 894.2 159.6 892.5 161.2C890.8 162.8 890.4 163.5 886.2 165C882 166.5 874 168.2 867.5 170C861 171.8 850.8 174.7 847.5 175.6" stroke-width="4.1"/><path d="M920.6 157.5C920.1 158.6 917.6 161.3 917.5 163.8C917.4 166.3 918.5 169.4 920 172.5C921.5 175.6 924.4 179.1 926.2 182.5C928 185.9 930 190.4 931 193C932 195.6 932.5 195.7 932.5 198C932.5 200.3 931.8 203.9 930.8 206.7C929.8 209.5 928.5 212.8 926.7 215C924.9 217.2 922.2 219 920 220C917.8 221 918.3 220.2 913.3 220.8C908.3 221.4 896.7 222.6 890 223.3C883.3 224 878.3 224.3 873.3 225C868.3 225.7 862.2 227.1 860 227.5"/><path d="M910 179.2C909.2 181.8 907.2 189.9 905 195C902.8 200.1 900.6 206.5 896.7 210C892.8 213.5 887 214.4 881.7 215.8C876.4 217.2 867.8 217.9 865 218.3" stroke-width="4.1"/><path d="M916.7 186.7C917.5 188.1 919.4 193.2 921.7 195C924.1 196.8 929.3 197.1 930.8 197.5"/><path d="M916.7 187.5L911.7 210"/><path d="M911.7 210C913.6 208.8 920.1 203.1 923.3 202.5C926.5 201.9 929.5 206 930.8 206.7"/></g></g>
<path d="M398.3 900.8L445.8 900.8L445.8 923.3L398.3 923.3Z" stroke-width="2.7" stroke-dasharray="3.6 1.8" stroke-linecap="butt"/>
<path d="M494 922L500.5 922" stroke-width="1.5"/>
<path d="M503.5 915L503.5 921.5" stroke-width="1.5"/>
<path d="M496 913.5L500 913.5" stroke-width="1.3"/>
<path d="M413.3 405C413.9 406.9 414.2 413.4 416.7 416.7C419.2 420 424.7 421.7 428.3 425C431.9 428.3 435.9 432.9 438.3 436.7C440.7 440.4 442.1 445.7 442.8 447.5" stroke-width="1.25"/>
<path d="M442.8 447.5L436.3 438.3L440.9 436.4Z" fill="#1d1d1d" stroke="none"/>
<path d="M508.3 450C508 452.2 508.9 458.3 506.7 463.3C504.5 468.3 498.3 474.7 495 480C491.7 485.3 488.4 490.6 486.7 495C485 499.4 485.3 504.8 485 506.7" stroke-width="1.25"/>
<path d="M560 443.3C560.8 445.2 562 451.4 565 455C568 458.6 575 461.7 578.3 465C581.6 468.3 583.5 471.7 585 475C586.5 478.3 587.2 483.3 587.6 485" stroke-width="1.25"/>
<path d="M587.6 485L582.4 475L587.3 473.7Z" fill="#1d1d1d" stroke="none"/>
<path d="M537.5 495C537.9 497.5 537.4 504.2 540 510C542.6 515.8 550 524.2 553.3 530C556.6 535.8 558.9 540.8 560 545C561.1 549.2 560 553.8 560 555.5" stroke-width="1.25"/>
<path d="M332.5 495C333.2 496.9 333.5 502.8 336.7 506.7C339.9 510.6 347.9 514.4 351.7 518.3C355.4 522.2 357.6 526.7 359.2 530C360.8 533.3 361.1 536.7 361.5 538" stroke-width="1.25"/>
<path d="M361.5 538L356.1 528.1L360.9 526.7Z" fill="#1d1d1d" stroke="none"/>
<path d="M435 506.7C435.3 508.6 434.8 514.1 436.7 518.3C438.6 522.5 444.3 527 446.7 531.7C449.1 536.4 450.1 541.7 450.8 546.7C451.6 551.8 451.1 559.5 451.2 562" stroke-width="1.25"/>
<path d="M451.2 562L448.4 551.1L453.4 550.9Z" fill="#1d1d1d" stroke="none"/>
<path d="M423.3 636.7C423.9 633.9 423.1 626.1 426.7 620C430.3 613.9 440.3 606.1 445 600C449.7 593.9 453.5 588.3 455 583.3C456.5 578.3 454.3 572.2 454.2 570" stroke-width="1.25"/>
<path d="M438.3 671.7C440.8 670 449.7 666.7 453.3 661.7C456.9 656.7 458.3 649.2 460 641.7C461.7 634.2 461.6 623.7 463.3 616.7C465 609.8 466.7 604.2 470 600C473.3 595.8 481.1 592.8 483.3 591.3" stroke-width="1.25"/>
<path d="M656.9 462.9C655.3 465.3 648.7 470.9 647.5 477.5C646.3 484.1 647.9 494.2 649.6 502.5C651.3 510.8 657.2 519.9 657.9 527.5C658.6 535.1 655.5 543.8 653.8 548.3C652.1 552.8 648.5 553.5 647.5 554.6" stroke-width="1.25"/>
<path d="M681.9 464C683.5 466.2 689.7 471.1 691.2 477.5C692.8 483.9 692.6 494.9 691.2 502.5C689.8 510.1 684.3 516.3 682.9 523.3C681.5 530.2 681.8 539.2 682.9 544.2C684 549.2 688.2 552 689.2 553.5" stroke-width="1.25"/>
<path d="M736 462.9C737.9 465.3 745.6 470.9 747.5 477.5C749.4 484.1 748.2 494.9 747.5 502.5C746.8 510.1 743.6 516.3 743.3 523.3C742.9 530.2 743.5 539 745.4 544.2C747.3 549.4 753.2 552.9 754.8 554.6" stroke-width="1.25"/>
<path d="M802.7 462.9C804.6 465.3 812.1 470.9 814.2 477.5C816.3 484.1 815.9 494.9 815.2 502.5C814.5 510.1 810.4 516.3 810 523.3C809.6 530.2 811.2 539.1 813.1 544.2C815 549.4 820.1 552.5 821.5 554.2" stroke-width="1.25"/>
<path d="M924.6 480.6C922.9 483.6 920.8 492.9 914.2 498.3C907.6 503.7 894.7 508 885 512.9C875.3 517.8 863.4 522.3 855.8 527.5C848.2 532.7 842.5 540.4 839.2 544.2C835.9 548 836.5 549.4 836 550.4" stroke-width="1.25"/>
<path d="M732.9 581.7C734 584.5 738.5 590.7 739.2 598.3C739.9 605.9 737.1 619.9 737.1 627.5C737.1 635.1 738 640.7 739.2 644.2C740.4 647.7 743.5 647.6 744.4 648.3" stroke-width="1.25"/>
<path d="M602.7 681.5C604.2 679.9 607.3 674.1 612 672C616.7 669.9 625.8 670.5 630.8 669C635.8 667.5 640.2 664.3 642.3 662.7C644.4 661.1 643.1 660.1 643.3 659.6" stroke-width="1.25"/>
<path d="M632.9 716.9C634.6 715.3 640.5 711.9 643.3 707.5C646.1 703.1 647.2 695 649.6 690.8C652 686.6 654.9 684.9 657.9 682.5C660.9 680.1 666 677.4 667.6 676.4" stroke-width="1.25"/>
<path d="M667.6 676.4L659.6 684.4L657 680.1Z" fill="#1d1d1d" stroke="none"/>
<path d="M632.9 740.8C635.7 739.4 645.1 738 649.6 732.5C654.1 727 657.2 714.5 660 707.5C662.8 700.5 662.7 695.1 666.2 690.8C669.7 686.5 678.4 683 680.8 681.5" stroke-width="1.25"/>
<path d="M907.9 690.8C903.7 691.1 891.6 694.3 882.9 692.9C874.2 691.5 864.5 685.3 855.8 682.5C847.1 679.7 837.4 676.7 830.8 676.2C824.2 675.7 818.6 678.9 816.2 679.4" stroke-width="1.25"/>
<path d="M690.2 757.5C687.2 758.5 677.5 759.6 672.5 763.8C667.5 768 663.5 775.2 660 782.5C656.5 789.8 653.8 801.1 651.7 807.5C649.6 813.9 649.9 815.1 647.5 820.8C645.1 826.5 641.3 835.8 637.1 841.7C632.9 847.6 627.4 852.9 622.5 856.2C617.6 859.5 610.4 860.6 608 861.5" stroke-width="1.25"/>
<path d="M778.8 757.5C780.5 758.9 786.1 760.9 789.2 765.8C792.3 770.7 795.8 779.8 797.5 786.7C799.2 793.7 798.9 800.6 799.6 807.5C800.3 814.4 800.3 822.7 801.7 828.3C803.1 833.9 805.1 837.2 807.9 841C810.7 844.8 815.3 848.6 818.3 851C821.2 853.4 824.4 854.5 825.6 855.2" stroke-width="1.25"/>
<path d="M845 757.5C846.8 758.5 852.9 759.6 855.8 763.8C858.6 768 860.9 775.2 862.1 782.5C863.3 789.8 862.4 801.6 863.1 807.5C863.8 813.4 864.3 814 866.2 818C868.1 822 871.6 827.8 874.6 831.2C877.6 834.6 882.4 837.3 884 838.5" stroke-width="1.25"/>
<path d="M690.2 985.4C690.4 982.3 688.6 973.3 691.2 966.7C693.8 960.1 701.3 951.4 705.8 945.8C710.3 940.2 715.9 937.1 718.3 933.3C720.7 929.5 719.7 924.6 720 922.9" stroke-width="1.25"/>
<path d="M819.4 985.4C818.9 982.3 819.2 972.6 816.2 966.7C813.2 960.8 806 955.2 801.7 950C797.4 944.8 792.4 939.9 790.2 935.4C788.1 930.9 789 925 788.8 922.9" stroke-width="1.25"/>
<path d="M748.5 1008.3C748.9 1005.9 751.3 998.6 750.6 993.8C749.9 988.9 745.3 984.1 744.4 979.2C743.5 974.3 744.8 968.9 745.4 964.6C746 960.3 747.8 955.4 748.3 953.6" stroke-width="1.25"/>
<path d="M748.3 953.6L747.9 964.9L743.1 963.6Z" fill="#1d1d1d" stroke="none"/>
<path d="M357.5 846.7C358.2 848.6 358.8 854.7 361.7 858.3C364.6 861.9 371.4 864.7 375 868.3C378.6 871.9 381.3 876.4 383.3 880C385.3 883.6 386.3 888.3 386.9 890" stroke-width="1.25"/>
<path d="M386.9 890L380.8 880.5L385.5 878.8Z" fill="#1d1d1d" stroke="none"/>
<path d="M391.7 973.3C393.1 971.6 398.2 967.2 400 963.3C401.8 959.4 401.4 954.4 402.5 950C403.6 945.6 405.1 940.5 406.7 936.7C408.3 932.9 411.1 928.8 412 927.2" stroke-width="1.25"/>
<path d="M412 927.2L408.8 938L404.5 935.6Z" fill="#1d1d1d" stroke="none"/>
<path d="M430.8 926.7C431.2 928.6 430.9 934.1 433.3 938.3C435.7 942.5 441.1 947.2 445 951.7C448.9 956.2 453.9 960.6 456.7 965C459.5 969.4 460.9 974.4 461.7 978.3C462.5 982.2 461.7 986.6 461.7 988.3" stroke-width="1.25" stroke-dasharray="2.8 2"/>
</g>
<g id="fig3">
<path d="M1298.2 372.5L1358.8 742.5L1379.5 738.8L1319.3 370" stroke-width="2.0"/>
<circle cx="1301.3" cy="331.8" r="41" fill="#fff" stroke-width="2"/>
<path d="M1265.4 391.8C1264.5 392.1 1261.8 393.1 1260 393.6C1258.1 394 1256.2 394.4 1254.4 394.6C1252.5 394.8 1250.6 394.8 1248.7 394.8C1246.8 394.7 1244.9 394.5 1243 394.2C1241.2 393.9 1239.3 393.4 1237.5 392.8C1235.7 392.3 1233.9 391.6 1232.2 390.7C1230.5 389.9 1228.9 389 1227.3 387.9C1225.7 386.9 1224.2 385.7 1222.8 384.5C1221.4 383.2 1220 381.8 1218.8 380.4C1217.6 379 1216.4 377.4 1215.4 375.8C1214.4 374.2 1213.5 372.6 1212.7 370.8C1211.9 369.1 1211.2 367.3 1210.7 365.5C1210.2 363.7 1209.8 361.8 1209.5 360C1209.2 358.1 1209 356.2 1209 354.3C1209 352.4 1209.1 350.5 1209.3 348.6C1209.6 346.8 1209.9 344.9 1210.4 343.1C1210.9 341.2 1211.6 339.4 1212.3 337.7C1213 335.9 1213.9 334.2 1214.9 332.6C1215.9 331 1217 329.4 1218.2 328C1219.4 326.5 1220.7 325.1 1222 323.8C1223.4 322.5 1224.9 321.3 1226.5 320.2C1228 319.1 1229.6 318.2 1231.3 317.3C1233 316.4 1234.8 315.7 1236.6 315.1C1238.3 314.4 1240.2 313.9 1242 313.6C1243.9 313.2 1245.8 313 1247.7 312.9C1249.6 312.8 1251.5 312.8 1253.4 312.9C1255.2 313.1 1257.1 313.4 1259 313.8C1260.8 314.2 1262.7 314.8 1264.4 315.4C1266.2 316.1 1267.9 316.9 1269.6 317.8C1271.3 318.7 1272.9 319.7 1274.4 320.8C1275.9 322 1277.4 323.2 1278.7 324.5C1280.1 325.9 1281.3 327.3 1282.5 328.8C1283.6 330.3 1284.7 331.9 1285.6 333.5C1286.6 335.2 1287.4 336.9 1288.1 338.6C1288.8 340.4 1289.4 342.2 1289.8 344.1C1290.3 345.9 1290.6 347.8 1290.8 349.7C1291 351.5 1291 353.4 1291 355.3C1290.9 357.2 1290.7 359.1 1290.4 361C1290 362.9 1289.6 364.7 1289 366.5C1288.4 368.3 1287.2 370.9 1286.9 371.8" stroke-width="1.8" stroke-dasharray="5.4 3" stroke-linecap="butt"/>
<path d="M1266 392.6L1304 449" stroke-width="1.8" stroke-dasharray="5.4 3" stroke-linecap="butt"/>
<path d="M1282.5 378.8L1327 449" stroke-width="1.8" stroke-dasharray="5.4 3" stroke-linecap="butt"/>
<ellipse cx="1322.5" cy="458.8" rx="17.4" ry="11" transform="rotate(-9 1322.5 458.8)" fill="#fff" stroke-width="2"/>
<ellipse cx="1333.3" cy="523.3" rx="17.4" ry="11" transform="rotate(-9 1333.3 523.3)" stroke-width="1.9" stroke-dasharray="1.6 1.1" stroke-linecap="butt"/>
<ellipse cx="1351.3" cy="631.8" rx="17.4" ry="11" transform="rotate(-9 1351.3 631.8)" stroke-width="1.9" stroke-dasharray="1.6 1.1" stroke-linecap="butt"/>
<rect x="1122" y="494.5" width="423.8" height="61.3" rx="11" ry="11" stroke-width="1.8" stroke-dasharray="5.8 3" stroke-linecap="butt"/>
<path d="M1482.5 217.5C1481.7 218.9 1480.8 223.9 1477.5 226.2C1474.2 228.5 1467.1 228.9 1462.5 231.2C1457.9 233.5 1453.5 236.6 1450 240C1446.5 243.4 1443 249.8 1441.6 251.8" stroke-width="1.25"/>
<path d="M1441.6 251.8L1445.9 241.4L1450 244.3Z" fill="#1d1d1d" stroke="none"/>
<path d="M1386.2 260C1385.2 261.5 1383.5 266.5 1380 268.8C1376.5 271.1 1369.6 271.1 1365 273.8C1360.4 276.5 1355.7 281.7 1352.5 285C1349.3 288.3 1347.1 292 1346 293.4" stroke-width="1.25"/>
<path d="M1346 293.4L1350.8 283.2L1354.7 286.2Z" fill="#1d1d1d" stroke="none"/>
<path d="M1326.2 255C1325.6 257.5 1325.2 265.4 1322.5 270C1319.8 274.6 1313.3 278.3 1310 282.5C1306.7 286.7 1303.8 291.4 1302.5 295C1301.2 298.6 1302.1 302.3 1302 303.8" stroke-width="1.25"/>
<path d="M1405 403.8C1402.1 404.2 1394.6 407.7 1387.5 406.2C1380.4 404.7 1370.8 398.5 1362.5 395C1354.2 391.5 1345.2 386.2 1337.5 385C1329.8 383.8 1319.8 387.1 1316.2 387.5" stroke-width="1.25"/>
<path d="M1146.2 446.2C1146.6 448.1 1146.1 453.5 1148.8 457.5C1151.5 461.5 1159 465.4 1162.5 470C1166 474.6 1168.5 481 1170 485C1171.5 489 1171.1 492.5 1171.3 494" stroke-width="1.25"/>
<path d="M1171.3 494L1167.3 483.5L1172.2 482.8Z" fill="#1d1d1d" stroke="none"/>
<path d="M1403.8 477.5C1401.1 477.3 1394.4 478.5 1387.5 476.2C1380.6 473.9 1370.4 466.9 1362.5 463.8C1354.6 460.7 1346 457.9 1340 457.5C1334 457.1 1328.5 460.6 1326.2 461.2" stroke-width="1.25"/>
<path d="M1403.8 537.5C1401.1 537.1 1393.1 537.1 1387.5 535C1381.9 532.9 1376.2 527.5 1370 525C1363.8 522.5 1355.4 520 1350 520C1344.6 520 1339.6 524.2 1337.5 525" stroke-width="1.25"/>
<path d="M1403.8 637.5C1401.1 637.1 1392.3 636.7 1387.5 635C1382.7 633.3 1379.2 629 1375 627.5C1370.8 626 1365.6 625.6 1362.5 626.2C1359.4 626.8 1357.2 630.4 1356.2 631.2" stroke-width="1.25"/>
<path d="M1290.5 713C1292.9 713.1 1299.2 716 1305 713.8C1310.8 711.6 1318.3 704.2 1325 700C1331.7 695.8 1339.2 690.4 1345 688.8C1350.8 687.2 1357.5 690.2 1360 690.5" stroke-width="1.25"/>
<path d="M1427 728C1424.6 727.5 1417 727.2 1412.5 725C1408 722.8 1404.2 717.5 1400 715C1395.8 712.5 1391.4 710.9 1387.5 710C1383.6 709.1 1378.6 709.5 1376.8 709.4" stroke-width="1.25"/>
<path d="M1376.8 709.4L1387.9 707.5L1387.6 712.5Z" fill="#1d1d1d" stroke="none"/>
</g>
<g opacity="0.996"><text x="411.8" y="29.6" font-size="21.6" text-anchor="middle">4</text>
<text x="531.9" y="29.6" font-size="21.6" text-anchor="middle">8</text>
<text x="560.6" y="29.6" font-size="21.6" text-anchor="middle">9</text>
<text x="586.8" y="29.6" font-size="21.6" text-anchor="middle">6</text>
<text x="615.7" y="29.6" font-size="21.6" text-anchor="middle">7</text>
<text x="668" y="29.6" font-size="21.6" text-anchor="middle">10</text>
<text x="697" y="29.6" font-size="21.6" text-anchor="middle">1</text>
<text x="761.2" y="19.2" font-size="21.6" text-anchor="middle">3</text>
<text x="368.2" y="313.4" font-size="21.6" text-anchor="middle">12</text>
<text x="485.1" y="312.6" font-size="21.6" text-anchor="middle">5</text>
<text x="547.5" y="312.6" font-size="21.6" text-anchor="middle">14</text>
<text x="586.9" y="312.6" font-size="21.6" text-anchor="middle">2</text>
<text x="687.5" y="312.6" font-size="21.6" text-anchor="middle">13</text>
<text x="800.8" y="312.6" font-size="21.6" text-anchor="middle">11</text>
<text x="893.3" y="312.6" font-size="21.6" text-anchor="middle">12</text>
<text x="596.8" y="377.3" font-size="37.6" text-anchor="start">Fig. 1</text>
<text transform="translate(636.7 532.6) scale(0.92 1)" font-size="43.6" text-anchor="middle" style="fill:#fff;stroke:#1d1d1d;stroke-width:1.5px">R</text>
<text transform="translate(702.8 535.6) scale(1 1)" font-size="50.5" text-anchor="middle" style="fill:#fff;stroke:#1d1d1d;stroke-width:1.5px">1</text>
<text transform="translate(766.8 531.8) scale(1 1)" font-size="47.6" text-anchor="middle" style="fill:#fff;stroke:#1d1d1d;stroke-width:1.5px">3</text>
<text transform="translate(832.4 531.8) scale(1 1)" font-size="47.6" text-anchor="middle" style="fill:#fff;stroke:#1d1d1d;stroke-width:1.5px">5</text>
<text transform="translate(704.3 798.9) scale(1 1)" font-size="49.5" text-anchor="middle" style="fill:#fff;stroke:#1d1d1d;stroke-width:1.5px">2</text>
<text transform="translate(766.8 799.6) scale(1 1)" font-size="50.5" text-anchor="middle" style="fill:#fff;stroke:#1d1d1d;stroke-width:1.5px">4</text>
<text transform="translate(833.6 798.9) scale(1 1)" font-size="49.5" text-anchor="middle" style="fill:#fff;stroke:#1d1d1d;stroke-width:1.5px">6</text>
<text x="412.5" y="402.9" font-size="20.4" text-anchor="middle">1</text>
<text x="508.8" y="447.9" font-size="20.4" text-anchor="middle">23</text>
<text x="558.7" y="438.7" font-size="20.4" text-anchor="middle">8</text>
<text x="538.7" y="491.2" font-size="20.4" text-anchor="middle">25</text>
<text x="332.3" y="490.4" font-size="20.4" text-anchor="middle">2</text>
<text x="434.7" y="503.7" font-size="20.4" text-anchor="middle">21</text>
<text x="423.3" y="653.7" font-size="20.4" text-anchor="middle">22</text>
<text x="423.3" y="680.4" font-size="20.4" text-anchor="middle">23</text>
<text x="668.3" y="468.1" font-size="20.4" text-anchor="middle">15</text>
<text x="723.5" y="468.1" font-size="20.4" text-anchor="middle">15</text>
<text x="790.2" y="468.1" font-size="20.4" text-anchor="middle">15</text>
<text x="729.8" y="579.5" font-size="20.4" text-anchor="middle">20</text>
<text x="599.6" y="699.1" font-size="20.4" text-anchor="middle">17</text>
<text x="619.4" y="726.2" font-size="20.4" text-anchor="middle">10</text>
<text x="619.4" y="749.1" font-size="20.4" text-anchor="middle">20</text>
<text x="921.5" y="696" font-size="20.4" text-anchor="middle">20</text>
<text x="594.4" y="869.7" font-size="20.4" text-anchor="middle">15</text>
<text x="837" y="866.6" font-size="20.4" text-anchor="middle">15</text>
<text x="900.6" y="850" font-size="20.4" text-anchor="middle">15</text>
<text x="690.8" y="1003.1" font-size="20.4" text-anchor="middle">19</text>
<text x="817.3" y="1003.1" font-size="20.4" text-anchor="middle">18</text>
<text x="745" y="1021.8" font-size="20.4" text-anchor="middle">9</text>
<text x="356.7" y="842.9" font-size="20.4" text-anchor="middle">3</text>
<text x="384.2" y="988.7" font-size="20.4" text-anchor="middle">24</text>
<text x="462.5" y="1002.4" font-size="20.4" text-anchor="middle">19</text>
<text x="914" y="478.4" font-size="20.4" text-anchor="start" letter-spacing="1">6,16</text>
<text x="596.8" y="1073.6" font-size="37.8" text-anchor="start">Fig. 2</text>
<text x="1482" y="216.6" font-size="18.3" text-anchor="middle">1</text>
<text x="1390" y="257.8" font-size="18.3" text-anchor="middle">6</text>
<text x="1325.8" y="252" font-size="18.3" text-anchor="middle">29</text>
<text x="1416.3" y="405.3" font-size="18.3" text-anchor="middle">27</text>
<text x="1150" y="446" font-size="18.3" text-anchor="middle">8,15</text>
<text x="1417.5" y="482" font-size="18.3" text-anchor="middle">26</text>
<text x="1277" y="719.8" font-size="18.3" text-anchor="middle">28</text>
<text x="1441.3" y="734.6" font-size="18.3" text-anchor="middle">16</text>
<text x="1406.8" y="542.8" font-size="18.3" text-anchor="start">26a</text>
<text x="1406.8" y="642.8" font-size="18.3" text-anchor="start">26b</text>
<text x="1293" y="835.1" font-size="33.2" text-anchor="start">Fig. 3</text></g>
<rect x="740" y="0" width="40" height="7.2" fill="#fff" stroke="none"/>
<rect x="951.6" y="455" width="40" height="32" fill="#fff" stroke="none"/>
<rect x="318" y="470" width="13.2" height="30" fill="#fff" stroke="none"/>
</g>
</svg>
</body></html>
